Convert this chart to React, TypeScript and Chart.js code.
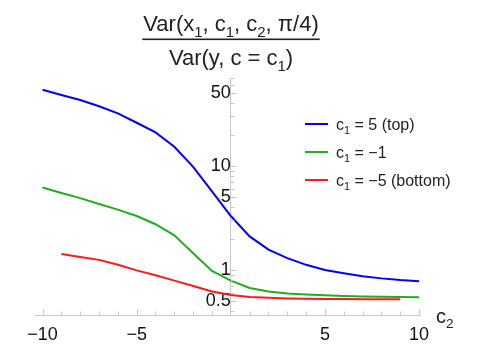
import React, { useEffect, useRef } from "react";
import { Chart, registerables } from "chart.js";

Chart.register(...registerables);

const c2Values = [-10, -9, -8, -7, -6, -5, -4, -3, -2, -1, 0, 1, 2, 3, 4, 5, 6, 7, 8, 9, 10];
const topSeries = [54, 48, 43, 37.5, 32, 26, 21, 15.3, 9.8, 5.7, 3.3, 2.1, 1.57, 1.3, 1.12, 1.0, 0.93, 0.87, 0.83, 0.8, 0.78];
const midSeries = [6.2, 5.5, 4.9, 4.3, 3.8, 3.3, 2.75, 2.15, 1.45, 0.98, 0.79, 0.67, 0.62, 0.595, 0.58, 0.57, 0.562, 0.556, 0.552, 0.549, 0.546];
const bottomC2 = [-9, -8, -7, -6, -5, -4, -3, -2, -1, 0, 1, 2, 3, 4, 5, 6, 7, 8, 9];
const bottomSeries = [1.42, 1.33, 1.25, 1.12, 0.99, 0.89, 0.79, 0.7, 0.62, 0.575, 0.55, 0.54, 0.533, 0.53, 0.527, 0.525, 0.524, 0.523, 0.522];

const xMajorTicks = [-10, -5, 5, 10];
const xMinorTicks = [-10, -9, -8, -7, -6, -5, -4, -3, -2, -1, 1, 2, 3, 4, 5, 6, 7, 8, 9, 10];
const yMajorTicks = [0.5, 1, 5, 10, 50];
const yMinorTicks = [0.4, 0.5, 0.6, 0.7, 0.8, 0.9, 1, 2, 3, 4, 5, 6, 7, 8, 9, 10, 20, 30, 40, 50, 60, 70];

const seriesColors = ["#0000ff", "#1fae1f", "#ff1a1a"];
const legendLabels: [string, string, string][] = [
  ["c", "1", " = 5 (top)"],
  ["c", "1", " = \u22121"],
  ["c", "1", " = \u22125 (bottom)"],
];

const FONT = "'Liberation Sans', Arial, sans-serif";

type Part = { t: string; sub?: boolean };

function richWidth(ctx: CanvasRenderingContext2D, parts: Part[], size: number) {
  let w = 0;
  for (const p of parts) {
    ctx.font = `${p.sub ? size * 0.68 : size}px ${FONT}`;
    w += ctx.measureText(p.t).width;
  }
  return w;
}

function drawRich(ctx: CanvasRenderingContext2D, parts: Part[], x: number, y: number, size: number, align: "left" | "center") {
  const w = richWidth(ctx, parts, size);
  let cx = align === "center" ? x - w / 2 : x;
  ctx.textAlign = "left";
  ctx.textBaseline = "alphabetic";
  for (const p of parts) {
    const s = p.sub ? size * 0.68 : size;
    ctx.font = `${s}px ${FONT}`;
    ctx.fillText(p.t, cx, p.sub ? y + size * 0.26 : y);
    cx += ctx.measureText(p.t).width;
  }
  return w;
}

const decorPlugin = {
  id: "decor",
  afterDraw(chart: any) {
    const ctx: CanvasRenderingContext2D = chart.ctx;
    const xs = chart.scales.x;
    const ys = chart.scales.y;
    const axisX = xs.getPixelForValue(0);
    const axisY = chart.chartArea.bottom;
    ctx.save();
    // tick marks (inward, Mathematica style)
    ctx.strokeStyle = "#c8c8c8";
    ctx.lineWidth = 1;
    ctx.beginPath();
    for (const v of xMinorTicks) {
      const px = Math.round(xs.getPixelForValue(v)) + 0.5;
      const len = xMajorTicks.includes(v) ? 6 : 3.5;
      ctx.moveTo(px, axisY);
      ctx.lineTo(px, axisY - len);
    }
    for (const v of yMinorTicks) {
      const py = Math.round(ys.getPixelForValue(v)) + 0.5;
      const len = yMajorTicks.includes(v) ? 6 : 3.5;
      ctx.moveTo(axisX, py);
      ctx.lineTo(axisX + len, py);
    }
    ctx.stroke();

    ctx.fillStyle = "#222";
    // title fraction
    const cxT = 231;
    const num: Part[] = [
      { t: "Var(x" }, { t: "1", sub: true }, { t: ", c" }, { t: "1", sub: true },
      { t: ", c" }, { t: "2", sub: true }, { t: ", \u03c0/4)" },
    ];
    const den: Part[] = [{ t: "Var(y, c = c" }, { t: "1", sub: true }, { t: ")" }];
    const nw = drawRich(ctx, num, cxT, 31, 22, "center");
    drawRich(ctx, den, cxT, 65, 22, "center");
    ctx.fillRect(cxT - nw / 2 - 1, 38.5, nw + 2, 1.6);

    // axis label c2
    drawRich(ctx, [{ t: "c" }, { t: "2", sub: true }], 436, 323, 20, "left");

    // legend
    const rowsY = [124, 152, 180];
    legendLabels.forEach((lab, i) => {
      ctx.strokeStyle = seriesColors[i];
      ctx.lineWidth = 2;
      ctx.beginPath();
      ctx.moveTo(305, rowsY[i]);
      ctx.lineTo(328, rowsY[i]);
      ctx.stroke();
      ctx.fillStyle = "#222";
      drawRich(ctx, [{ t: lab[0] }, { t: lab[1], sub: true }, { t: lab[2] }], 336, rowsY[i] + 5.5, 16, "left");
    });
    ctx.restore();
  },
};

export default function App() {
  const ref = useRef<HTMLCanvasElement>(null);
  useEffect(() => {
    document.body.style.margin = "0";
    const mk = (xs: number[], ys: number[]) => xs.map((x, i) => ({ x, y: ys[i] }));
    const chart = new Chart(ref.current as HTMLCanvasElement, {
      type: "line",
      data: {
        datasets: [
          { label: "c1 = 5 (top)", data: mk(c2Values, topSeries), borderColor: seriesColors[0] },
          { label: "c1 = -1", data: mk(c2Values, midSeries), borderColor: seriesColors[1] },
          { label: "c1 = -5 (bottom)", data: mk(bottomC2, bottomSeries), borderColor: seriesColors[2] },
        ].map((d) => ({ ...d, borderWidth: 2, pointRadius: 0, tension: 0, fill: false })),
      },
      options: {
        animation: false,
        responsive: false,
        layout: { padding: { left: 35, right: 59, top: 78, bottom: 0 } },
        plugins: { legend: { display: false }, title: { display: false }, tooltip: { enabled: false } },
        scales: {
          x: {
            type: "linear",
            position: "bottom",
            min: -10.4,
            max: 10.05,
            grid: { display: false, drawTicks: false },
            border: { display: true, color: "#c8c8c8", width: 1 },
            afterBuildTicks: (s: any) => { s.ticks = xMajorTicks.map((v) => ({ value: v })); },
            afterFit: (s: any) => { s.height = 34; },
            ticks: {
              autoSkip: false,
              maxRotation: 0,
              padding: 9,
              color: "#111",
              font: { family: FONT, size: 18 },
              callback: (v: any) => (Number(v) < 0 ? "\u2212" + Math.abs(Number(v)) : String(v)),
            },
          },
          y: {
            type: "logarithmic",
            position: { x: 0 } as any,
            min: 0.369,
            max: 70,
            grid: { display: false, drawTicks: false },
            border: { display: true, color: "#c8c8c8", width: 1 },
            afterBuildTicks: (s: any) => { s.ticks = yMajorTicks.map((v) => ({ value: v })); },
            ticks: {
              autoSkip: false,
              padding: -6,
              color: "#111",
              font: { family: FONT, size: 18 },
              callback: (v: any) => String(v),
            },
          },
        },
      },
      plugins: [decorPlugin],
    } as any);
    return () => chart.destroy();
  }, []);
  return (
    <div style={{ width: 479, height: 349, background: "#fff" }}>
      <canvas ref={ref} width={479} height={349} style={{ display: "block" }} />
    </div>
  );
}
